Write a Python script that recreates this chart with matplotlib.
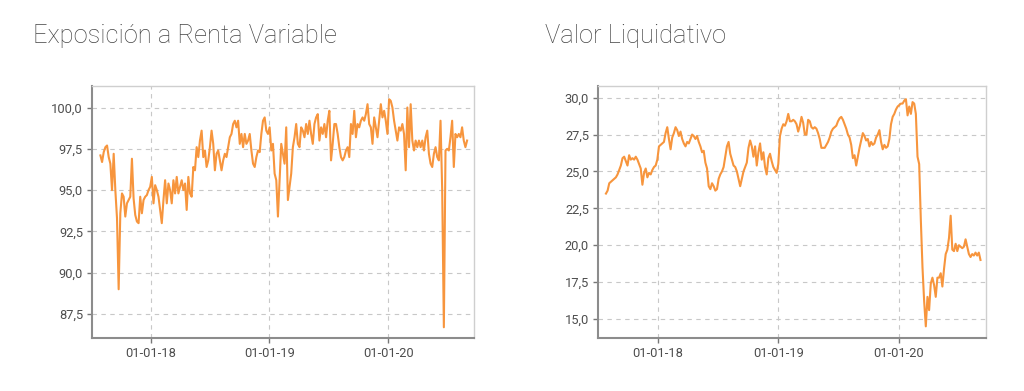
import pandas as pd
import matplotlib
matplotlib.use("Agg")
from matplotlib import pyplot as plt
import matplotlib.dates as mdates
from matplotlib.ticker import FuncFormatter

# Exposicion a Renta Variable (%), roughly every 5 days
exp_start = "2017-07-30"
exp_end = "2020-08-31"
exposicion = [
    97.1, 96.7, 97.3, 97.6, 97.7, 97.0, 96.6, 95.0, 97.2, 95.0,
    93.3, 89.0, 93.6, 94.8, 94.6, 93.4, 94.2, 94.4, 94.6, 96.9,
    94.5, 93.5, 93.1, 93.0, 94.6, 93.6, 94.4, 94.6, 94.7, 95.0,
    95.2, 95.8, 94.2, 95.3, 95.0, 94.6, 93.8, 93.0, 94.4, 95.6,
    94.2, 95.4, 95.0, 94.2, 95.6, 94.8, 95.8, 94.8, 95.2, 95.6,
    95.0, 95.4, 93.8, 95.8, 94.8, 94.6, 96.4, 96.2, 97.6, 97.0,
    98.0, 98.6, 97.0, 97.4, 96.4, 96.8, 97.6, 98.6, 97.8, 96.2,
    97.2, 97.4, 96.8, 96.2, 96.8, 97.2, 97.0, 97.6, 98.2, 98.4,
    99.0, 99.2, 98.8, 99.2, 97.8, 98.4, 97.6, 98.4, 97.8, 98.0,
    98.4, 97.4, 96.6, 96.4, 97.0, 97.4, 97.3, 98.4, 99.2, 99.4,
    98.6, 98.4, 98.8, 97.4, 97.8, 96.0, 95.6, 93.4, 95.6, 97.8,
    97.2, 96.6, 98.8, 94.4, 95.2, 96.0, 97.6, 98.2, 99.0, 97.8,
    97.6, 98.8, 98.6, 98.2, 99.0, 98.4, 99.2, 98.4, 97.8, 99.0,
    99.4, 99.6, 98.0, 98.8, 98.4, 99.0, 98.2, 99.2, 99.8, 96.8,
    97.8, 99.0, 99.0, 98.4, 97.6, 97.0, 96.8, 97.0, 97.4, 97.6,
    97.0, 99.0, 98.4, 99.8, 98.2, 99.0, 98.8, 99.2, 99.4, 99.2,
    99.6, 100.2, 99.0, 98.8, 97.8, 99.4, 98.8, 98.2, 99.2, 100.2,
    99.4, 99.8, 99.2, 98.4, 100.5, 100.4, 100.0, 99.2, 98.6, 98.0,
    98.8, 98.6, 99.0, 98.4, 96.2, 100.0, 97.6, 100.2, 98.0, 97.4,
    98.0, 97.6, 98.0, 97.6, 98.0, 97.4, 98.2, 98.6, 97.2, 96.6,
    96.4, 97.2, 97.6, 97.0, 96.8, 99.2, 95.0, 86.7, 97.4, 97.5,
    97.4, 98.2, 99.2, 96.4, 98.4, 98.2, 98.4, 98.2, 98.8, 98.0,
    97.6, 98.0,
]

# Valor Liquidativo, roughly every 5 days
vl_start = "2017-07-28"
vl_end = "2020-09-04"
valor_liq = [
    23.5, 23.7, 24.2, 24.3, 24.4, 24.5, 24.6, 24.8, 25.1, 25.4,
    25.9, 26.0, 25.7, 25.4, 26.1, 25.8, 25.9, 25.8, 26.0, 25.8,
    25.5, 25.2, 24.1, 24.9, 25.2, 24.6, 24.9, 24.8, 25.1, 25.3,
    25.4, 25.8, 26.7, 26.8, 26.9, 27.0, 27.6, 28.0, 27.2, 26.5,
    27.3, 27.6, 28.0, 27.8, 27.4, 27.7, 27.2, 26.9, 26.7, 27.0,
    26.9, 27.2, 27.5, 27.4, 27.2, 27.4, 27.0, 26.7, 26.3, 26.4,
    25.6, 25.2, 24.0, 23.8, 24.2, 24.0, 23.7, 23.8, 24.5, 24.8,
    25.0, 25.3, 26.0, 26.7, 27.0, 26.2, 25.8, 25.4, 25.3, 25.0,
    24.5, 24.0, 24.5, 25.0, 25.3, 25.6, 26.6, 27.1, 26.7, 26.0,
    26.7, 25.4, 26.3, 26.9, 25.8, 26.3, 25.3, 24.8, 25.9, 26.2,
    25.7, 25.3, 25.1, 24.9, 25.5, 27.4, 27.9, 28.2, 28.1, 28.4,
    28.9, 28.4, 28.4, 28.5, 28.4, 28.2, 27.7, 28.1, 28.7, 28.3,
    27.5, 27.5, 28.5, 28.4, 28.0, 27.9, 28.0, 27.9, 27.6, 27.2,
    26.6, 26.6, 26.6, 26.8, 27.0, 27.3, 27.7, 27.9, 28.0, 28.1,
    28.4, 28.6, 28.7, 28.5, 28.2, 27.9, 27.5, 27.3, 26.8, 25.9,
    26.1, 25.4, 26.0, 26.6, 27.1, 27.6, 27.4, 27.1, 27.2, 26.7,
    27.0, 26.8, 26.9, 27.3, 27.5, 27.8, 27.0, 26.5, 26.8, 26.6,
    26.7, 27.2, 28.2, 28.7, 28.9, 29.2, 29.4, 29.5, 29.6, 29.6,
    29.8, 29.9, 28.8, 29.4, 28.9, 29.7, 29.6, 28.9, 26.0, 25.5,
    21.7, 18.5, 16.2, 14.5, 16.5, 15.6, 17.4, 17.8, 17.3, 16.5,
    17.8, 17.8, 18.1, 17.2, 18.4, 19.4, 19.7, 20.5, 22.0, 19.7,
    19.6, 20.1, 19.6, 20.0, 19.9, 19.8, 19.9, 20.4, 19.9, 19.4,
    19.2, 19.4, 19.3, 19.5, 19.3, 19.5, 19.0,
]

titles = ["Exposición a Renta Variable", "Valor Liquidativo"]
exp_ticks = [87.5, 90.0, 92.5, 95.0, 97.5, 100.0]
vl_ticks = [15.0, 17.5, 20.0, 22.5, 25.0, 27.5, 30.0]

orange = "#f7953d"

plt.rcParams["font.family"] = ["Roboto", "DejaVu Sans"]

fig = plt.figure(figsize=(10.24, 3.91), dpi=100)
ax1 = fig.add_axes([0.0898, 0.1355, 0.373, 0.6445])
ax2 = fig.add_axes([0.584, 0.1355, 0.379, 0.6445])

d1 = pd.date_range(exp_start, exp_end, periods=len(exposicion))
d2 = pd.date_range(vl_start, vl_end, periods=len(valor_liq))

ax1.plot(d1, exposicion, color=orange, lw=1.5)
ax2.plot(d2, valor_liq, color=orange, lw=1.5)

ax1.set_ylim(86.05, 101.3)
ax1.set_yticks(exp_ticks)
ax2.set_ylim(13.71, 30.79)
ax2.set_yticks(vl_ticks)

comma = FuncFormatter(lambda v, p: ("%.1f" % v).replace(".", ","))

for ax in (ax1, ax2):
    ax.set_xlim(pd.Timestamp("2017-07-04"), pd.Timestamp("2020-09-21"))
    ax.xaxis.set_major_locator(mdates.YearLocator())
    ax.xaxis.set_major_formatter(mdates.DateFormatter("%d-%m-%y"))
    ax.yaxis.set_major_formatter(comma)
    ax.grid(True, color="#c8c8c8", lw=0.8, linestyle=(0, (4, 4)))
    ax.set_axisbelow(True)
    for s in ("left", "bottom"):
        ax.spines[s].set_color("#8c8c8c")
        ax.spines[s].set_linewidth(1.5)
    for s in ("top", "right"):
        ax.spines[s].set_color("#cfcfcf")
        ax.spines[s].set_linewidth(1.0)
    ax.tick_params(colors="#777777", labelcolor="#4d4d4d", labelsize=9.3,
                   length=3.5, width=1.0, pad=3)

fig.text(33 / 1024, 1 - 43 / 391, titles[0], fontsize=18.4, color="#444444",
         family="Roboto", fontweight="light", va="baseline")
fig.text(545 / 1024, 1 - 43 / 391, titles[1], fontsize=18.4, color="#444444",
         family="Roboto", fontweight="light", va="baseline")

fig.savefig("out.png", dpi=100)
